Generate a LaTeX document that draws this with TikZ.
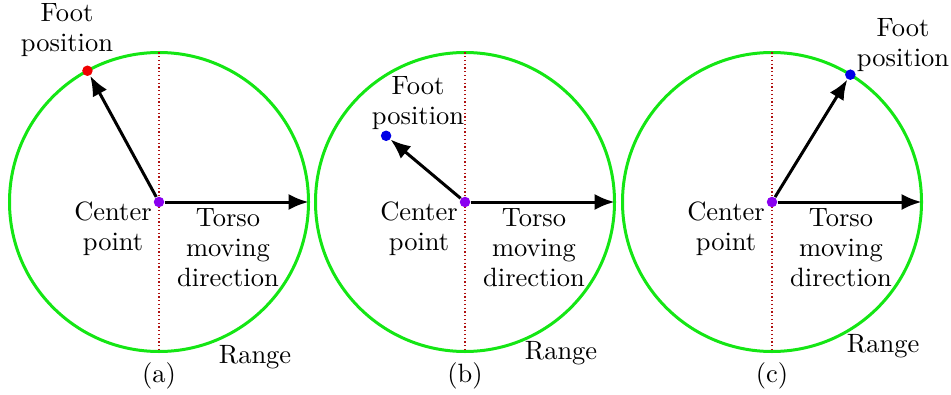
\documentclass[tikz,border=0pt]{standalone}
\usepackage{tikz}
\usetikzlibrary{arrows.meta,positioning}
\definecolor{RangeGreen}{HTML}{14E614}
\definecolor{MidViolet}{HTML}{8A00F0}
\definecolor{FootRed}{HTML}{F00000}
\definecolor{FootBlue}{HTML}{0000E6}
\definecolor{AxisRed}{HTML}{B01010}
\tikzset{
  rangecirc/.style={line width=1.2pt, draw=RangeGreen},
  axisline/.style={line width=0.5pt, draw=AxisRed, densely dotted},
  vec/.style={line width=1.2pt, draw=black, -{Latex[length=8pt,width=6.5pt]}},
  dot/.style={circle, minimum size=4.2pt, inner sep=0pt},
  lab/.style={align=center, inner sep=1pt, font=\fontsize{10.6}{12}\selectfont},
}
\begin{document}
\begin{tikzpicture}[x=0.4pt,y=0.4pt]
\useasboundingbox (0,0) rectangle (951,394);
\def\R{149.5}
% ---------------------------------------------------------------- panel (a)
\begin{scope}[shift={(159,192)}]
  \draw[rangecirc] (0,0) circle (\R);
  \draw[axisline] (0,\R) -- (0,-\R);
  \coordinate (ta) at (\R,0);
  \node[dot, fill=MidViolet] (ca) at (0,0) {};
  \node[dot, fill=FootRed] (fa) at (118.6:\R) {};
  \draw[vec] (ca) -- (fa);
  \draw[vec] (ca) -- (ta);
  \node[lab] (fla) at (-92,172) {Foot\\position};
  \node[lab] (cla) at (-46,-27) {Center\\point};
  \node[lab] (tla) at (69,-46) {Torso\\moving\\direction};
  \node[lab] (rla) at (96,-155) {Range};
  \node[lab] (pa) at (0,-174) {(a)};
\end{scope}
% ---------------------------------------------------------------- panel (b)
\begin{scope}[shift={(465,192)}]
  \draw[rangecirc] (0,0) circle (\R);
  \draw[axisline] (0,\R) -- (0,-\R);
  \coordinate (tb) at (\R,0);
  \node[dot, fill=MidViolet] (cb) at (0,0) {};
  \node[dot, fill=FootBlue] (fb) at (140:103) {};
  \draw[vec] (cb) -- (fb);
  \draw[vec] (cb) -- (tb);
  \node[lab] (flb) at (-47,99) {Foot\\position};
  \node[lab] (clb) at (-46,-27) {Center\\point};
  \node[lab] (tlb) at (69,-46) {Torso\\moving\\direction};
  \node[lab] (rlb) at (96,-151) {Range};
  \node[lab] (pb) at (0,-174) {(b)};
\end{scope}
% ---------------------------------------------------------------- panel (c)
\begin{scope}[shift={(772,192)}]
  \draw[rangecirc] (0,0) circle (\R);
  \draw[axisline] (0,\R) -- (0,-\R);
  \coordinate (tc) at (\R,0);
  \node[dot, fill=MidViolet] (cc) at (0,0) {};
  \node[dot, fill=FootBlue] (fc) at (58.4:\R) {};
  \draw[vec] (cc) -- (fc);
  \draw[vec] (cc) -- (tc);
  \node[lab] (flc) at (131,157) {Foot\\position};
  \node[lab] (clc) at (-46,-27) {Center\\point};
  \node[lab] (tlc) at (69,-46) {Torso\\moving\\direction};
  \node[lab] (rlc) at (111,-144) {Range};
  \node[lab] (pc) at (0,-174) {(c)};
\end{scope}
\end{tikzpicture}
\end{document}
